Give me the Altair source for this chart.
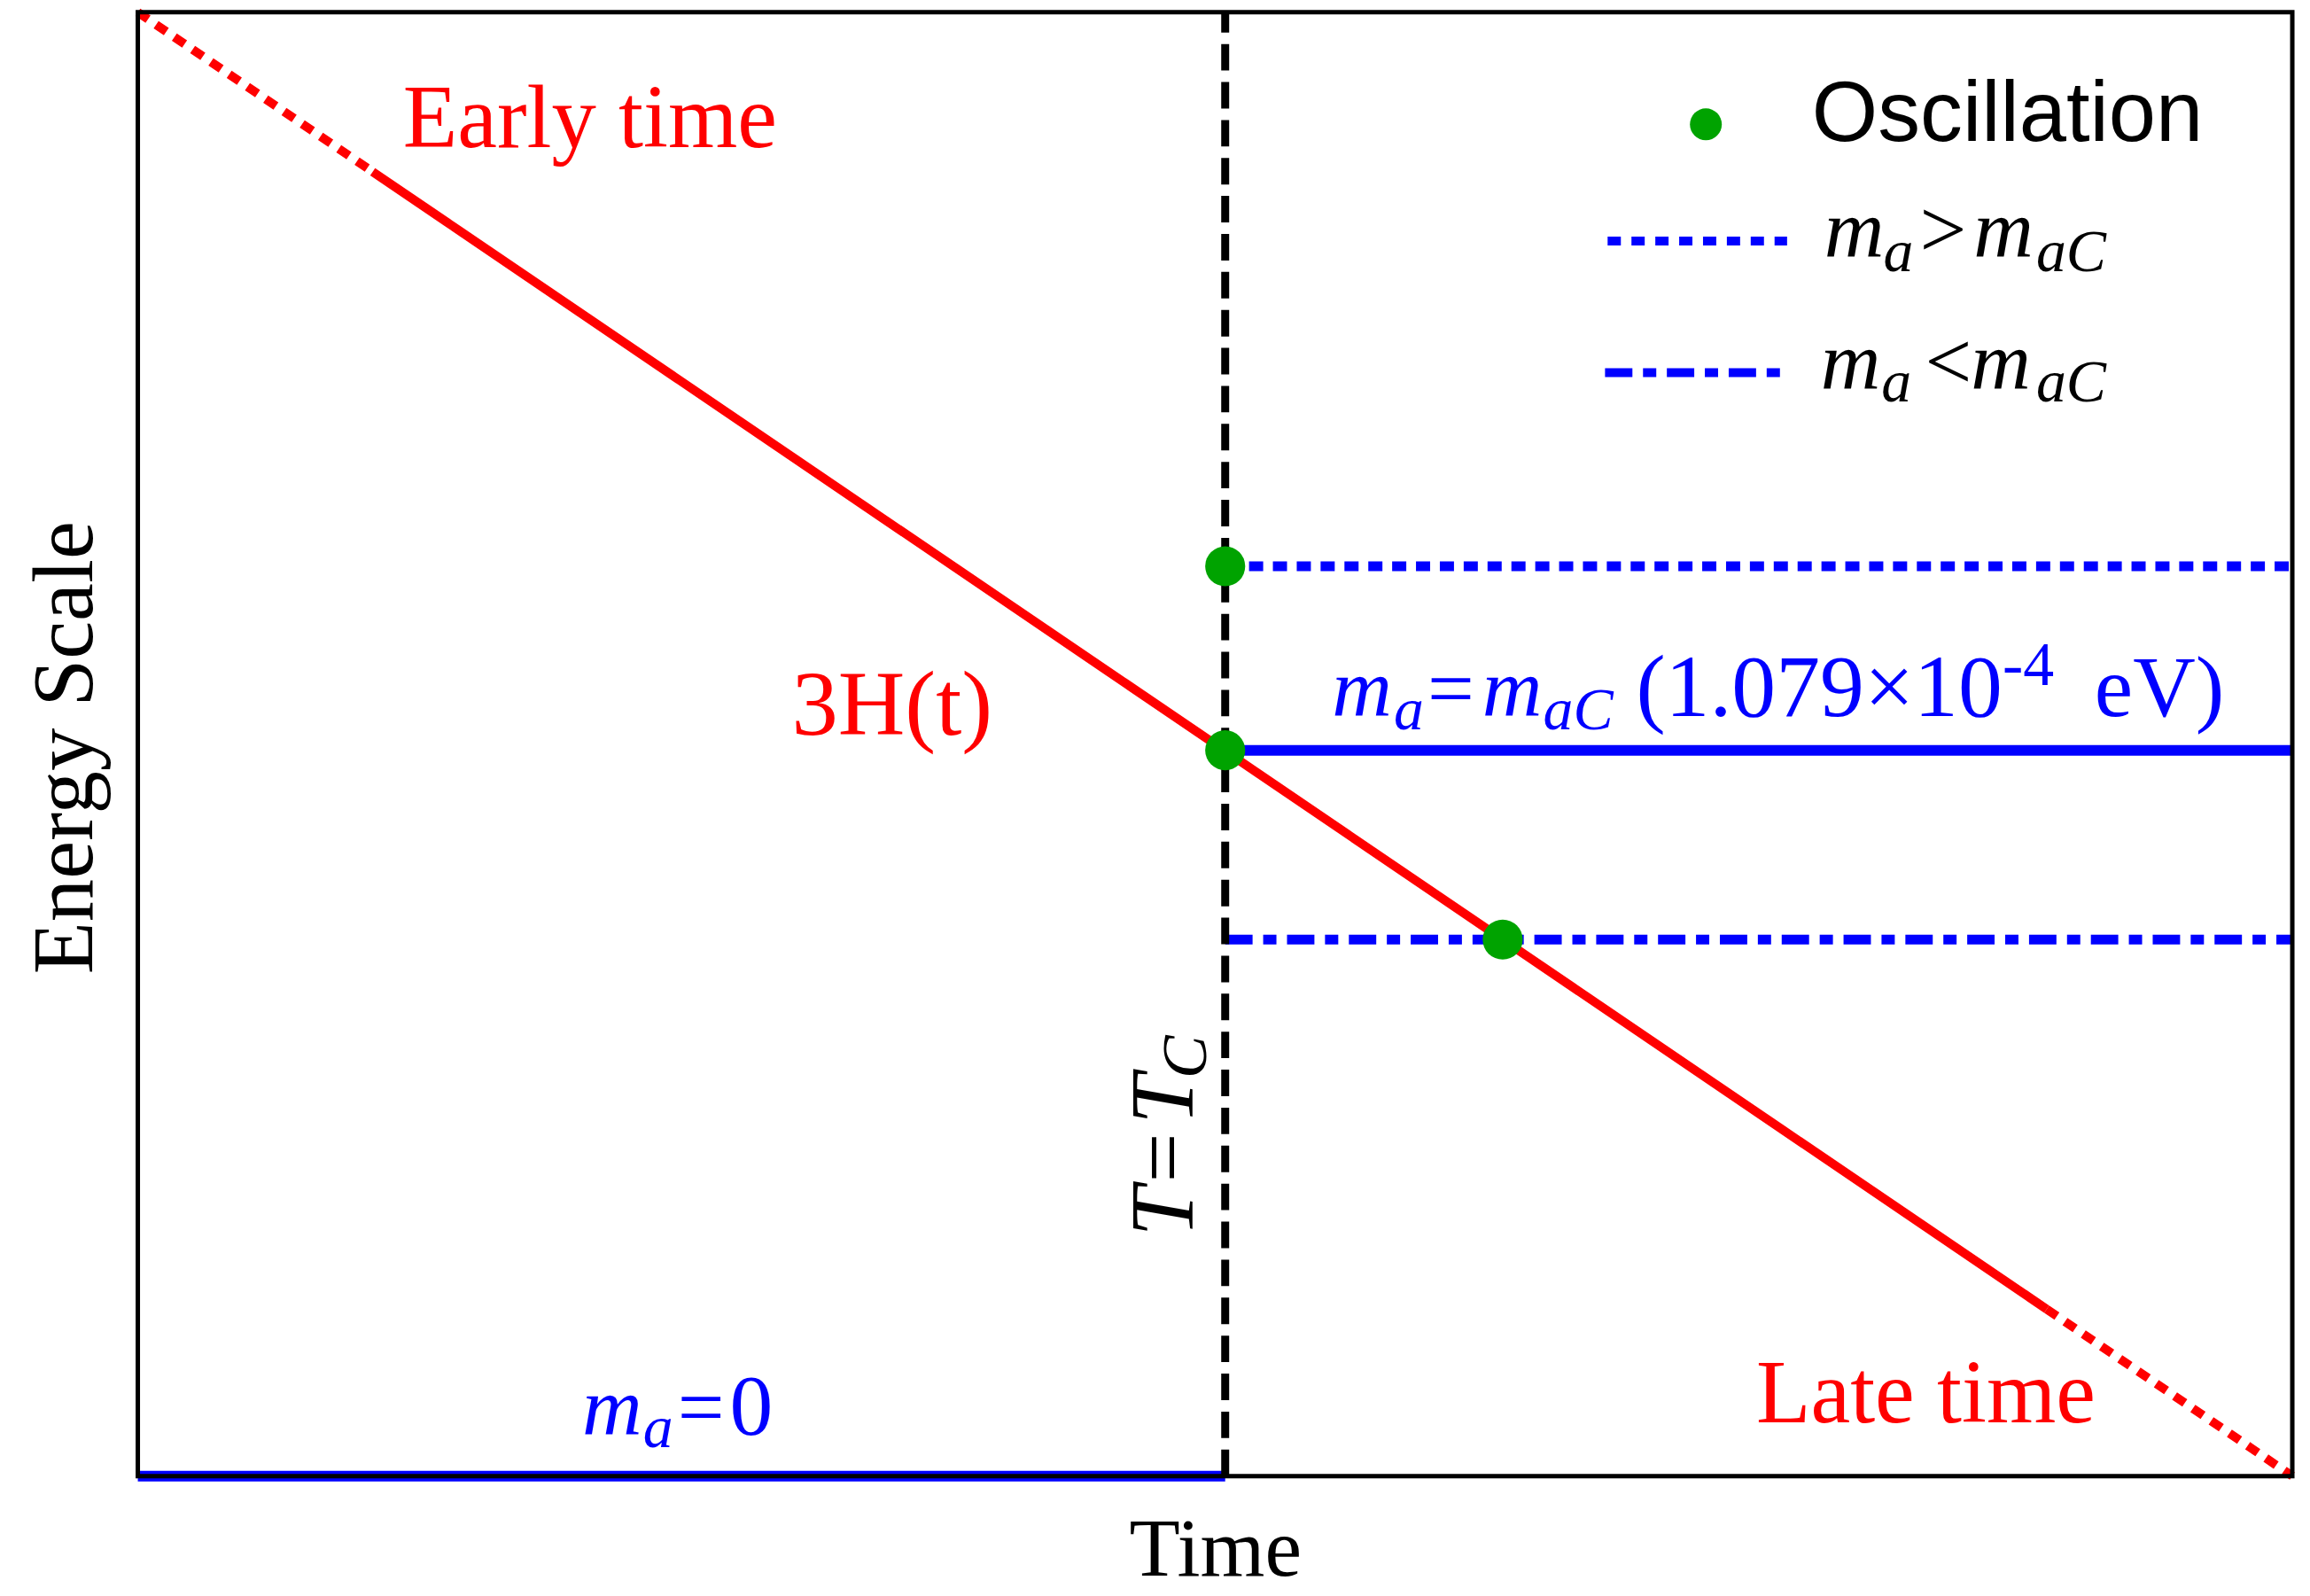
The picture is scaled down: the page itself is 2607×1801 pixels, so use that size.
import altair as alt
import pandas as pd

# ---------------- data (both axes run 0..1) ----------------
T_C_X = 0.5047  # time of T = T_C

# 3H(t): dotted (early) / solid / dotted (late)
H_X0 = [0.0, 0.109, 0.886]
H_Y0 = [1.0, 0.891, 0.114]
H_X1 = [0.109, 0.886, 1.0]
H_Y1 = [0.891, 0.114, 0.0]
H_STYLE = ["dot", "solid", "dot"]

# axion mass levels
LEVEL_NAME = ["gt", "eq", "lt", "zero"]
LEVEL_Y = [0.6215, 0.4958, 0.3665, 0.0]
LEVEL_X0 = [T_C_X, T_C_X, T_C_X, 0.0]
LEVEL_X1 = [1.0, 1.0, 1.0, T_C_X]

# oscillation onset points
OSC_X = [T_C_X, T_C_X, 0.6335]
OSC_Y = [0.6215, 0.4958, 0.3665]

# manual legend entries
LEG_DOT_X = [0.7278]
LEG_DOT_Y = [0.9234]
LEG_LINE_NAME = ["gt", "lt"]
LEG_LINE_X0 = [0.6822, 0.6810]
LEG_LINE_X1 = [0.7655, 0.7622]
LEG_LINE_Y = [0.8437, 0.7538]

SERIF = "Liberation Serif"
SANS = "Liberation Sans"
RED = "#ff0000"
BLUE = "#0000ff"
GREEN = "#00a300"
BLACK = "#000000"

# annotation pieces: text, x, y, size, color, angle, kind, align
ANN = [
    ("Early time", 0.2099, 0.9077, 101, RED, 0, "roman", "center"),
    ("3H(t)", 0.3501, 0.5063, 105, RED, 0, "roman", "center"),
    ("Late time", 0.8299, 0.0368, 101, RED, 0, "roman", "center"),
    # m_a = 0
    ("m", 0.2062, 0.0284, 94, BLUE, 0, "italic", "left"),
    ("a", 0.2345, 0.0199, 68, BLUE, 0, "italic", "left"),
    ("=", 0.2505, 0.0284, 94, BLUE, 0, "roman", "left"),
    ("0", 0.2747, 0.0284, 98, BLUE, 0, "roman", "left"),
    # m_a = m_aC (1.079x10^-4 eV)
    ("m", 0.5543, 0.5190, 94, BLUE, 0, "italic", "left"),
    ("a", 0.5830, 0.5100, 68, BLUE, 0, "italic", "left"),
    ("=", 0.5986, 0.5190, 94, BLUE, 0, "roman", "left"),
    ("m", 0.6240, 0.5190, 94, BLUE, 0, "italic", "left"),
    ("aC", 0.6523, 0.5100, 68, BLUE, 0, "italic", "left"),
    ("(1.079\u00d710", 0.6954, 0.5190, 100, BLUE, 0, "roman", "left"),
    ("-4", 0.8655, 0.5401, 70, BLUE, 0, "roman", "left"),
    ("eV)", 0.9082, 0.5190, 98, BLUE, 0, "roman", "left"),
    # T = T_C (rotated)
    ("T", 0.4895, 0.1635, 102, BLACK, 270, "italic", "left"),
    ("=", 0.4895, 0.2004, 100, BLACK, 270, "roman", "left"),
    ("T", 0.4895, 0.2402, 102, BLACK, 270, "italic", "left"),
    ("C", 0.4957, 0.2716, 73, BLACK, 270, "italic", "left"),
    # legend texts
    ("Oscillation", 0.7770, 0.9119, 96, BLACK, 0, "sans", "left"),
    ("m", 0.7827, 0.8328, 94, BLACK, 0, "italic", "left"),
    ("a", 0.8102, 0.8232, 68, BLACK, 0, "italic", "left"),
    (">", 0.8270, 0.8328, 94, BLACK, 0, "roman", "left"),
    ("m", 0.8520, 0.8328, 94, BLACK, 0, "italic", "left"),
    ("aC", 0.8811, 0.8232, 68, BLACK, 0, "italic", "left"),
    ("m", 0.7811, 0.7423, 94, BLACK, 0, "italic", "left"),
    ("a", 0.8093, 0.7339, 68, BLACK, 0, "italic", "left"),
    ("<", 0.8295, 0.7423, 94, BLACK, 0, "roman", "left"),
    ("m", 0.8508, 0.7423, 94, BLACK, 0, "italic", "left"),
    ("aC", 0.8811, 0.7339, 68, BLACK, 0, "italic", "left"),
]

# ---------------- tables ----------------
h_df = pd.DataFrame({"x": H_X0, "y": H_Y0, "x1": H_X1, "y1": H_Y1, "style": H_STYLE})
lev_df = pd.DataFrame({"name": LEVEL_NAME, "x": LEVEL_X0, "x1": LEVEL_X1, "y": LEVEL_Y, "y1": LEVEL_Y})
vert_df = pd.DataFrame({"x": [T_C_X], "x1": [T_C_X], "y": [0.0], "y1": [1.0]})
osc_df = pd.DataFrame({"x": OSC_X, "y": OSC_Y})
legdot_df = pd.DataFrame({"x": LEG_DOT_X, "y": LEG_DOT_Y})
legline_df = pd.DataFrame({"name": LEG_LINE_NAME, "x": LEG_LINE_X0, "x1": LEG_LINE_X1,
                           "y": LEG_LINE_Y, "y1": LEG_LINE_Y})
frame_df = pd.DataFrame({"x": [0.0], "x1": [1.0], "y": [0.0], "y1": [1.0]})
ann_df = pd.DataFrame(ANN, columns=["text", "x", "y", "size", "color", "angle", "kind", "align"])

W, H = 2439, 1657

SX = alt.Scale(domain=[0, 1], nice=False, zero=False)
SY = alt.Scale(domain=[0, 1], nice=False, zero=False)
AX = alt.Axis(title="Time", labels=False, ticks=False, domain=False, grid=False,
              titleFont=SERIF, titleFontSize=94, titleFontWeight="normal", titleColor="black",
              titleAlign="center", titleBaseline="alphabetic", titleX=W / 2, titleY=112)
AY = alt.Axis(title="Energy Scale", labels=False, ticks=False, domain=False, grid=False,
              titleFont=SERIF, titleFontSize=97, titleFontWeight="normal", titleColor="black",
              titleAngle=270, titleAlign="center", titleBaseline="alphabetic",
              titleX=-52, titleY=832)


def X(f):
    return alt.X(f, type="quantitative", scale=SX, axis=AX)


def Y(f):
    return alt.Y(f, type="quantitative", scale=SY, axis=AY)


def seg(df, **mark):
    return alt.Chart(df).mark_rule(strokeCap="butt", **mark).encode(
        x=X("x"), y=Y("y"), x2="x1", y2="y1")


DOT = [16, 11]
DASHDOT = [31, 12, 15, 12]

layers = [
    seg(lev_df).transform_filter("datum.name == 'zero' || datum.name == 'eq'").mark_rule(
        strokeCap="butt", color=BLUE, strokeWidth=12),
    seg(lev_df).transform_filter("datum.name == 'gt'").mark_rule(
        strokeCap="butt", color=BLUE, strokeWidth=11, strokeDash=DOT),
    seg(lev_df).transform_filter("datum.name == 'lt'").mark_rule(
        strokeCap="butt", color=BLUE, strokeWidth=11, strokeDash=DASHDOT),
    seg(vert_df, color=BLACK, strokeWidth=9, strokeDash=[30, 13]),
    seg(h_df).transform_filter("datum.style == 'solid'").mark_rule(
        strokeCap="butt", color=RED, strokeWidth=10),
    seg(h_df).transform_filter("datum.style == 'dot'").mark_rule(
        strokeCap="butt", color=RED, strokeWidth=10, strokeDash=[14, 11]),
    alt.Chart(osc_df).mark_circle(color=GREEN, opacity=1, size=2050).encode(x=X("x"), y=Y("y")),
    alt.Chart(legdot_df).mark_circle(color=GREEN, opacity=1, size=1300).encode(x=X("x"), y=Y("y")),
    seg(legline_df).transform_filter("datum.name == 'gt'").mark_rule(
        strokeCap="butt", color=BLUE, strokeWidth=10, strokeDash=[15, 12]),
    seg(legline_df).transform_filter("datum.name == 'lt'").mark_rule(
        strokeCap="butt", color=BLUE, strokeWidth=10, strokeDash=DASHDOT),
]

groups = [("roman", "center", SERIF, "normal"), ("roman", "left", SERIF, "normal"),
          ("italic", "left", SERIF, "italic"), ("sans", "left", SANS, "normal")]
for kind, align, font, fstyle in groups:
    layers.append(
        alt.Chart(ann_df)
        .transform_filter(f"datum.kind == '{kind}' && datum.align == '{align}'")
        .mark_text(font=font, fontStyle=fstyle, align=align, baseline="alphabetic")
        .encode(x=X("x"), y=Y("y"), text="text:N",
                size=alt.Size("size:Q", scale=None),
                color=alt.Color("color:N", scale=None),
                angle=alt.Angle("angle:Q", scale=None))
    )

layers.append(
    alt.Chart(frame_df).mark_rect(fill="white", fillOpacity=0, stroke=BLACK, strokeWidth=5).encode(
        x=X("x"), x2="x1", y=Y("y"), y2="y1")
)

chart = (
    alt.layer(*layers)
    .properties(width=W, height=H, autosize=alt.AutoSizeParams(type="none"),
                padding={"left": 148, "top": 3, "right": 12, "bottom": 140},
                background="white")
    .configure_view(stroke=None)
)

chart.save("out.html", embed_options={"renderer": "svg", "actions": False})
